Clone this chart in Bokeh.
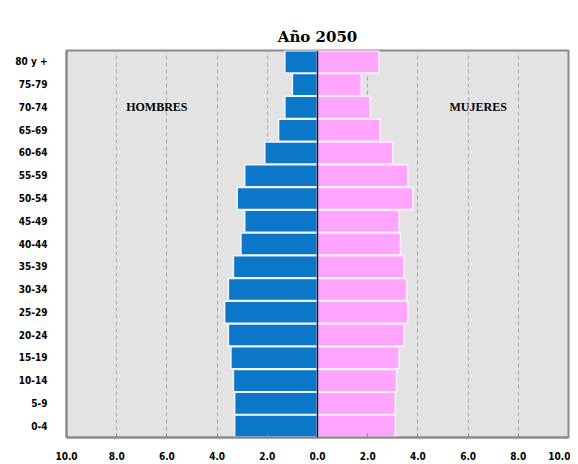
from bokeh.plotting import figure
from bokeh.models import FactorRange, FixedTicker, Span
from bokeh.core.properties import value
from bokeh.embed import file_html
from bokeh.resources import INLINE

age_groups = ["0-4", "5-9", "10-14", "15-19", "20-24", "25-29", "30-34", "35-39",
              "40-44", "45-49", "50-54", "55-59", "60-64", "65-69", "70-74", "75-79", "80 y +"]
hombres = [3.3, 3.3, 3.35, 3.45, 3.55, 3.7, 3.55, 3.35, 3.05, 2.9, 3.2, 2.9, 2.1, 1.55, 1.3, 1.0, 1.3]
mujeres = [3.1, 3.1, 3.15, 3.25, 3.45, 3.6, 3.55, 3.45, 3.3, 3.25, 3.8, 3.6, 3.0, 2.5, 2.1, 1.75, 2.45]
x_ticks = [-10, -8, -6, -4, -2, 0, 2, 4, 6, 8, 10]
x_tick_labels = ["10.0", "8.0", "6.0", "4.0", "2.0", "0.0", "2.0", "4.0", "6.0", "8.0", "10.0"]
title_text = "Año 2050"

p = figure(width=570, height=462, y_range=FactorRange(factors=age_groups, range_padding=0),
           x_range=(-10, 10), output_backend="svg", toolbar_location=None,
           min_border_left=66, min_border_right=2, min_border_top=50, min_border_bottom=24)

p.title.text = title_text
p.title.align = "center"
p.title.text_font = "DejaVu Serif"
p.title.text_font_style = "bold"
p.title.text_font_size = "15px"
p.title.text_color = "black"
p.title.offset = 0
p.title.standoff = 10

p.background_fill_color = "#e3e3e3"
p.border_fill_color = "white"
p.outline_line_color = "#8a8a8a"
p.outline_line_width = 2

neg = [-v for v in hombres]
p.hbar(y=age_groups, left=neg, right=0, height=0.97, fill_color="#0A77C9",
       line_color="#f4f4ff", line_width=1.5)
p.hbar(y=age_groups, left=0, right=mujeres, height=0.97, fill_color="#FFA5FF",
       line_color="#fff0ff", line_width=1.5)

p.add_layout(Span(location=0, dimension="height", line_color="#1a1a2a", line_width=1.5))

p.text(x=[-6.4], y=["70-74"], text=["HOMBRES"], text_align="center", text_baseline="middle",
       text_font=value("Liberation Serif"), text_font_style="bold", text_font_size="12px",
       text_color="black")
p.text(x=[6.4], y=["70-74"], text=["MUJERES"], text_align="center", text_baseline="middle",
       text_font=value("Liberation Serif"), text_font_style="bold", text_font_size="12px",
       text_color="black")

p.xaxis.ticker = FixedTicker(ticks=x_ticks)
p.xaxis.major_label_overrides = {t: l for t, l in zip(x_ticks, x_tick_labels)}
p.xgrid.ticker = FixedTicker(ticks=x_ticks)
p.xgrid.grid_line_color = "#a8a8a8"
p.xgrid.grid_line_dash = "4 3"
p.xgrid.grid_line_width = 1
p.ygrid.grid_line_color = None

for ax in (p.xaxis[0], p.yaxis[0]):
    ax.axis_line_color = "#8a8a8a"
    ax.axis_line_width = 2
    ax.major_tick_line_color = "#8a8a8a"
    ax.minor_tick_line_color = None
    ax.major_label_text_font = "DejaVu Sans Condensed"
    ax.major_label_text_font_style = "bold"
    ax.major_label_text_font_size = "10px"
    ax.major_label_text_color = "black"

p.xaxis.major_tick_in = 4
p.xaxis.major_tick_out = 0
p.xaxis.major_label_standoff = 14
p.yaxis.major_tick_line_color = None
p.yaxis.major_label_standoff = 13

open("out.html", "w").write(file_html(p, INLINE))
